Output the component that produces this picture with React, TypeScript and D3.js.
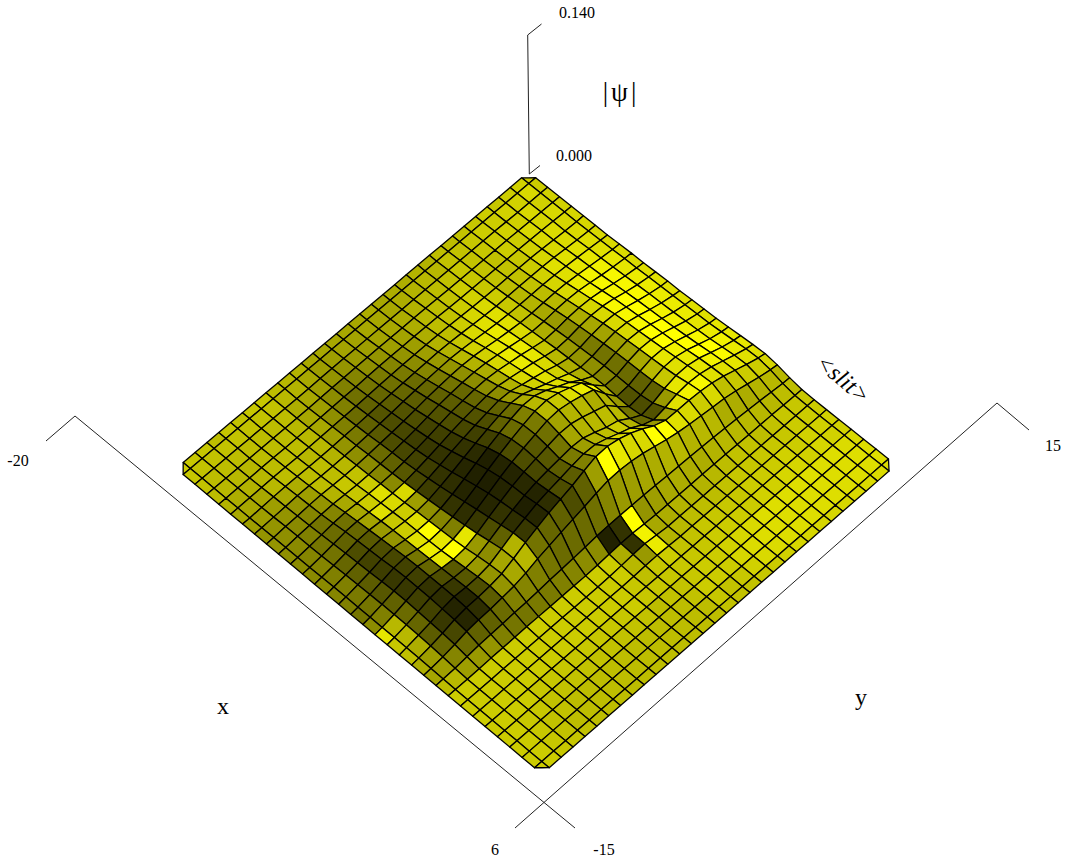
import React, { useRef, useEffect } from 'react';
import * as d3 from 'd3';

// |psi| in units of 0.001, rows run along x, columns along y. Columns left out are 0.
const psiRows: number[][] = [
  [0,0,0,0,0,0,0,0,1,1,1,2,2,2,3,3,4,5,6,7,7,4,1],
  [0,0,0,0,0,0,1,1,2,2,3,3,4,4,5,5,6,7,9,10,10,5,1],
  [0,0,0,1,1,1,2,3,3,4,5,6,7,7,8,9,10,11,13,14,14,7,2],
  [0,0,0,1,1,2,3,4,5,6,8,9,10,11,12,13,14,16,17,18,18,9,2],
  [0,0,1,1,2,3,4,5,7,9,11,13,14,15,16,17,18,20,21,22,22,11,2],
  [0,0,1,1,2,3,4,6,8,10,12,14,16,17,18,19,20,21,22,24,24,12,2],
  [0,0,1,1,2,3,4,6,8,10,12,14,15,16,17,18,18,19,21,25,25,13,3],
  [0,0,1,1,2,3,4,5,7,9,10,11,12,13,13,13,13,14,17,24,27,14,3],
  [0,0,1,1,2,2,4,5,6,7,8,9,9,10,10,10,9,10,12,20,29,15,3],
  [0,0,1,1,2,3,4,6,7,8,9,10,10,11,12,12,10,10,12,20,32,16,3],
  [0,0,1,1,2,3,5,7,9,11,13,14,15,18,26,36,32,26,22,28,38,16,3],
  [0,0,1,2,3,4,6,8,11,13,15,17,19,22,31,40,36,28,24,35,43,17,3],
  [0,0,1,2,3,5,7,10,13,15,17,19,22,28,38,44,40,33,28,40,48,18,3],
  [0,0,1,2,3,5,8,11,14,17,19,22,26,34,43,46,43,37,34,44,50,18,3],
  [0,0,1,2,3,5,8,11,14,17,20,24,30,38,45,47,45,40,37,46,52,18,3,3,2],
  [0,0,1,2,3,5,7,10,13,16,18,22,28,36,42,43,42,38,36,44,48,18,3,3,2],
  [0,0,1,2,3,4,7,9,12,15,17,20,25,32,38,39,39,36,35,40,42,18,3,2,1],
  [0,0,1,2,3,4,6,8,10,13,15,18,22,28,33,35,36,34,34,36,38,16,3,1],
  [0,0,1,1,2,3,5,6,8,10,12,15,19,23,28,30,32,31,32,34,34,15,2],
  [0,0,1,1,2,3,4,5,6,8,9,12,15,18,22,24,27,27,29,30,30,13,2],
  [0,0,0,1,1,2,3,4,5,6,7,9,11,13,16,18,21,22,24,25,25,12,2],
  [0,0,0,1,1,2,2,3,4,4,5,6,8,9,11,13,15,17,20,22,20,11,2],
  [0,0,0,0,1,1,2,2,3,3,4,4,5,6,7,8,9,11,13,14,14,8,2],
  [0,0,0,0,1,1,1,2,2,3,4,4,5,6,6,6,7,8,10,11,12,8,2],
  [0,0,0,0,0,1,1,2,2,3,4,5,6,6,6,6,7,8,9,10,10,7,2],
  [0,0,0,0,0,1,1,2,3,4,5,6,7,8,9,10,10,10,10,10,9,6,1],
  [0,0,0,0,1,1,2,3,3,4,6,7,8,9,10,11,11,11,11,10,9,6,1],
  [0,0,0,0,0,1,1,2,2,3,4,5,6,6,7,8,8,8,7,6,6,4,1],
  [0,0,0,0,0,1,1,1,2,2,2,3,3,4,4,5,5,5,4,4,3,2],
  [0,0,0,0,0,0,0,1,1,1,1,1,2,2,2,2,2,2,2,2,1,1],
  [],
];

// brightness of each facet, 100 is pure yellow
const facetLight: number[][] = [
  [80,80,82,82,84,84,85,85,86,86,87,88,88,88,88,88,90,90,90,88,84,72,74,78,80,82,82,85,87,87,85],
  [82,85,82,85,84,86,87,88,90,90,92,92,92,92,92,90,92,95,92,88,80,72,74,78,80,82,82,86,87,87,86],
  [80,82,85,84,86,86,88,90,94,97,97,98,97,95,95,95,97,100,98,90,80,70,72,78,80,82,84,87,87,87,86],
  [78,82,82,85,85,85,88,90,95,97,97,100,100,100,100,100,100,100,95,88,78,68,72,76,78,80,82,87,87,87,85],
  [80,80,82,80,82,84,88,88,92,95,97,97,97,97,100,100,95,92,90,88,75,68,72,74,78,82,84,87,87,87,84],
  [78,80,80,80,78,80,82,84,85,84,84,85,85,85,88,92,90,88,92,97,85,68,72,76,78,80,84,87,87,87,84],
  [76,78,78,76,76,76,76,74,72,70,68,66,64,62,62,66,72,78,90,95,80,72,72,76,78,80,82,87,87,87,84],
  [74,76,76,76,76,74,72,70,66,60,55,52,48,45,44,42,38,38,60,88,85,72,70,74,78,80,82,87,87,87,84],
  [74,76,78,78,78,80,78,76,72,68,64,60,58,56,52,45,32,30,32,62,88,70,68,72,76,78,80,87,87,87,84],
  [70,72,76,80,82,85,88,88,86,82,78,72,68,68,72,70,60,45,40,60,100,72,68,70,74,78,80,85,87,86,82],
  [70,72,74,76,80,84,88,92,92,92,90,85,82,85,92,98,70,72,70,75,100,70,68,70,74,78,80,84,86,85,80],
  [68,70,72,74,76,80,85,88,90,92,92,90,88,88,92,92,68,74,80,88,85,68,66,70,74,78,80,82,84,82,78],
  [68,68,70,72,74,74,78,82,82,84,86,85,82,88,88,87,72,72,75,85,84,65,62,68,72,76,78,80,80,78,76],
  [66,66,68,68,68,70,70,72,70,68,68,70,72,72,80,78,70,70,70,75,90,62,58,66,70,76,78,80,80,76,76],
  [68,66,66,64,62,62,60,58,56,55,55,55,60,68,72,72,64,65,62,66,100,60,100,95,92,80,78,78,80,78,76],
  [66,66,64,62,58,55,52,48,45,40,40,38,38,42,50,48,44,46,48,50,62,52,20,20,60,78,78,76,76,74,74],
  [66,64,62,58,52,48,42,40,38,36,34,32,30,38,42,40,34,34,36,36,38,44,13,68,72,75,78,76,74,74,74],
  [66,64,60,56,48,44,40,36,34,32,30,28,25,25,24,30,30,28,26,30,30,42,55,80,80,78,78,74,74,74,74],
  [66,62,58,52,46,40,36,32,30,26,25,22,20,17,12,14,14,16,14,18,38,42,55,80,80,80,80,76,74,74,74],
  [66,62,58,50,44,38,33,30,28,24,22,20,18,15,13,12,14,18,12,15,40,42,52,80,80,80,78,76,74,74,74],
  [70,66,62,55,50,42,38,35,30,28,26,24,20,18,14,13,15,20,18,22,45,46,50,80,80,80,78,76,74,74,74],
  [72,70,66,62,56,50,48,44,42,38,34,28,24,22,20,18,22,30,38,70,72,50,48,80,80,80,78,76,74,74,74],
  [74,72,68,66,66,62,58,56,54,52,54,85,62,56,52,50,90,60,55,65,66,52,48,80,80,80,78,76,74,74,74],
  [78,76,74,72,72,72,70,72,76,80,88,85,80,88,100,90,100,70,60,58,58,50,46,80,80,80,78,76,74,74,74],
  [78,76,74,74,74,72,74,74,78,78,80,88,78,80,88,93,90,35,34,30,36,42,46,80,80,80,78,76,74,74,74],
  [76,76,74,74,74,74,74,74,70,66,66,64,60,58,50,46,40,30,22,15,18,38,50,80,80,80,78,76,74,74,74],
  [78,76,74,74,74,74,68,62,58,52,44,40,35,30,28,26,25,20,18,14,15,38,58,80,80,80,78,76,76,74,76],
  [74,76,74,72,72,72,66,58,52,45,42,38,30,26,24,22,22,25,26,22,28,42,60,80,80,80,80,78,76,76,78],
  [78,76,74,72,70,66,62,58,54,50,46,45,40,38,36,34,38,42,40,36,40,52,62,80,80,80,80,78,78,78,78],
  [78,76,74,72,68,66,62,58,56,54,52,52,50,50,48,46,50,72,72,68,62,62,72,80,80,80,80,80,80,80,80],
  [80,78,76,74,70,66,62,58,58,56,54,54,54,52,50,46,55,90,78,75,68,65,74,80,80,80,80,80,80,80,80],
];

const xTicks = [-20, 6];
const yTicks = [-15, 15];
const zTicks = [0, 0.14];

const nodes = d3.range(31);

// corners of the z = 0 floor on screen: back, left, right, front
const floorBack = [528.5, 172];
const floorLeft = [176, 468.5];
const floorRight = [896, 465];
const floorFront = [542, 774];

// perspective map of the unit square onto the floor
function makeFloor() {
  const [x0, y0] = floorBack;
  const [x1, y1] = floorRight;
  const [x2, y2] = floorFront;
  const [x3, y3] = floorLeft;
  const sx = x0 - x1 + x2 - x3;
  const sy = y0 - y1 + y2 - y3;
  const d1x = x1 - x2;
  const d2x = x3 - x2;
  const d1y = y1 - y2;
  const d2y = y3 - y2;
  const den = d1x * d2y - d2x * d1y;
  const g = (sx * d2y - d2x * sy) / den;
  const h = (d1x * sy - sx * d1y) / den;
  return (u: number, v: number) => {
    const w = g * u + h * v + 1;
    return [
      (x1 - x0 + g * x1) * u + (x3 - x0 + h * x3) * v + x0,
      (y1 - y0 + g * y1) * u + (y3 - y0 + h * y3) * v + y0,
    ].map(c => c / w);
  };
}

const App = () => {
  const svgRef = useRef<SVGSVGElement>(null);

  useEffect(() => {
    const svg = d3.select(svgRef.current);
    svg.selectAll('*').remove();

    const floor = makeFloor();
    const edge = d3.scaleLinear().domain([1, 30]).range([0.6 / 30, 29.4 / 30]);
    const edgeAt = (k: number) => (k === 0 ? 0 : k === 31 ? 1 : edge(k));
    const zPx = d3.scaleLinear().domain([0, 140]).range([0, 138]);
    const light = d3
      .scaleLinear<string>()
      .domain([0, 100])
      .range(['#000000', '#ffff00']);

    const psi = (a: number, b: number) => psiRows[a]?.[b] ?? 0;

    // a mesh corner sits between up to four nodes
    const meshPoint = (i: number, j: number): [number, number] => {
      const as = d3.range(Math.max(i - 1, 0), Math.min(i, 30) + 1);
      const bs = d3.range(Math.max(j - 1, 0), Math.min(j, 30) + 1);
      const z = d3.mean(as.flatMap(a => bs.map(b => psi(a, b)))) ?? 0;
      const [x, y] = floor(edgeAt(j), edgeAt(i));
      const depth = 0.95 + (0.2 * (edgeAt(i) + edgeAt(j))) / 2;
      return [x, y - zPx(z) * depth];
    };

    // the four outer corners of the mesh are cut off, they sit halfway between their neighbours
    const corner = (i: number, j: number): [number, number] => {
      if ((i === 0 || i === 31) && (j === 0 || j === 31)) {
        const p = meshPoint(i === 0 ? 1 : 30, j);
        const q = meshPoint(i, j === 0 ? 1 : 30);
        return [(p[0] + q[0]) / 2, (p[1] + q[1]) / 2];
      }
      return meshPoint(i, j);
    };

    const facets = nodes
      .flatMap(a => nodes.map(b => ({ a, b })))
      .sort((p, q) => p.a + p.b - (q.a + q.b));

    const outline = d3.line().curve(d3.curveLinearClosed);

    // drawn back to front
    svg
      .append('g')
      .selectAll('path')
      .data(facets)
      .join('path')
      .attr('d', d =>
        outline([
          corner(d.a, d.b),
          corner(d.a, d.b + 1),
          corner(d.a + 1, d.b + 1),
          corner(d.a + 1, d.b),
        ])
      )
      .attr('fill', d => light(facetLight[d.a][d.b]))
      .attr('stroke', '#000')
      .attr('stroke-width', 1.3)
      .attr('stroke-linejoin', 'round');

    const axes = svg
      .append('g')
      .attr('stroke', '#222')
      .attr('stroke-width', 1)
      .attr('fill', 'none');

    const line = d3.line();
    const xAxisX = d3.scaleLinear().domain(xTicks).range([75, 575]);
    const xAxisY = d3.scaleLinear().domain(xTicks).range([416, 828]);
    const yAxisX = d3.scaleLinear().domain(yTicks).range([515, 997]);
    const yAxisY = d3.scaleLinear().domain(yTicks).range([828, 403]);
    const zAxisY = d3.scaleLinear().domain(zTicks).range([174, 35]);

    const axisPaths = [
      [[xAxisX(-20), xAxisY(-20)], [xAxisX(6), xAxisY(6)]],
      [[xAxisX(-20), xAxisY(-20)], [46, 441]],
      [[yAxisX(-15), yAxisY(-15)], [yAxisX(15), yAxisY(15)]],
      [[yAxisX(15), yAxisY(15)], [1029, 430]],
      [[541.5, 24], [527.7, zAxisY(0.14)], [529.3, zAxisY(0)], [540, 165.5]],
    ];
    axes
      .selectAll('path')
      .data(axisPaths)
      .join('path')
      .attr('d', d => line(d as [number, number][]));

    const labels = svg
      .append('g')
      .attr('font-family', '"Liberation Serif", serif')
      .attr('fill', '#000');

    const text = (s: string, x: number, y: number, size: number) =>
      labels
        .append('text')
        .attr('x', x)
        .attr('y', y)
        .attr('font-size', size)
        .attr('text-anchor', 'middle')
        .text(s);

    text(zTicks[1].toFixed(3), 577, 18, 16);
    text(zTicks[0].toFixed(3), 574, 161, 16);
    text('|\u03c8|', 621, 101, 27).attr('letter-spacing', 3);
    text(String(xTicks[0]), 18, 466, 16);
    text(String(xTicks[1]), 495, 855, 16);
    text(String(yTicks[0]), 604, 855, 16);
    text(String(yTicks[1]), 1053, 451, 16);
    text('x', 223, 714, 24);
    text('y', 861, 705, 24);
    text('<slit>', 0, 0, 24)
      .attr('font-style', 'italic')
      .attr('transform', 'translate(838,385) rotate(40)');
  }, []);

  return (
    <svg
      ref={svgRef}
      width={1067}
      height={863}
      style={{ position: 'absolute', left: 0, top: 0, background: '#fff' }}
    />
  );
};

export default App;
